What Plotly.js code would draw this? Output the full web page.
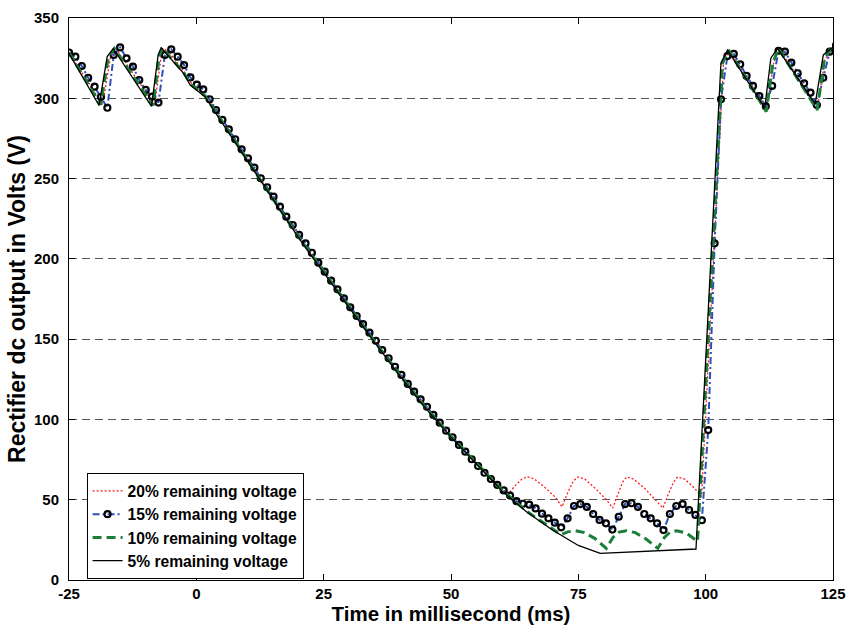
<!DOCTYPE html>
<html>
<head>
<meta charset="utf-8">
<script src="https://cdn.plot.ly/plotly-3.0.1.min.js"></script>
<style>
  html, body { margin: 0; padding: 0; background: #ffffff; }
  #chart { width: 849px; height: 626px; }
</style>
</head>
<body>
<div id="chart"></div>
<script>
// Rectifier dc-link voltage during a voltage sag, for four remaining-voltage levels.

// 20% remaining voltage
const t20 = [-25, -18.4, -16.9, -15.8, -8.2, -6.9, -5.9, -2.5, -1.0, 1.7, 5, 10, 15, 20, 25, 30, 35, 40, 45, 50, 55, 60,
  61.3, 62.6, 63.9, 65.0, 66.3, 68.5, 70.5, 71.8, 73.0, 74.0, 74.9, 76.3, 78.5, 80.5, 81.75, 82.9, 83.7, 84.5, 85.9,
  88.2, 90.2, 91.6, 92.8, 93.7, 94.5, 95.9, 97.7, 99.2, 103.5, 104.6, 112.0, 113.4, 114.5, 122.0, 123.4, 124.6, 125];
const v20 = [328.5, 296, 325, 331, 296, 326, 331, 317, 309.5, 302, 286.5, 262, 238, 214.5, 192.5, 170.5, 149, 128, 108, 90, 72.8, 56.5,
  53.8, 58.8, 62.8, 64.3, 63.0, 57.5, 51.5, 45.6, 55.0, 61.5, 64.2, 62.8, 56.5, 50.0, 44.8, 54.5, 61.0, 64.2, 62.8,
  56.5, 50.0, 44.8, 54.5, 61.0, 64.2, 62.8, 57.5, 52.0, 322, 330, 293.5, 323, 330.5, 294.5, 324, 330, 331.5];

// 15% remaining voltage (sampled trace, drawn with markers)
const t15 = [-25.00, -23.75, -22.49, -21.24, -19.98, -18.73, -17.47, -16.22, -14.96, -13.71, -12.45, -11.20, -9.94, -8.69,
  -7.43, -6.18, -4.92, -3.67, -2.41, -1.16, 0.10, 1.36, 2.61, 3.87, 5.12, 6.38, 7.63, 8.89, 10.14, 11.40, 12.65, 13.91,
  15.16, 16.42, 17.67, 18.93, 20.18, 21.44, 22.69, 23.95, 25.20, 26.46, 27.71, 28.97, 30.22, 31.48, 32.73, 33.99, 35.24,
  36.50, 37.75, 39.01, 40.26, 41.52, 42.77, 44.03, 45.28, 46.54, 47.79, 49.05, 50.30, 51.56, 52.81, 54.07, 55.32, 56.58,
  57.83, 59.09, 60.34, 61.60, 62.85, 64.11, 65.36, 66.62, 67.87, 69.13, 70.38, 71.64, 72.89, 74.15, 75.40, 76.66, 77.91,
  79.17, 80.42, 81.68, 82.93, 84.19, 85.44, 86.70, 87.95, 89.21, 90.46, 91.72, 92.97, 94.23, 95.48, 96.74, 97.99, 99.25,
  100.50, 101.76, 103.01, 104.27, 105.52, 106.78, 108.03, 109.29, 110.54, 111.80, 113.05, 114.31, 115.56, 116.82, 118.07,
  119.33, 120.58, 121.84, 123.09, 124.35, 125.60];
const v15 = [328.5, 325.9, 320.1, 312.8, 307.2, 300.8, 294.1, 327.0, 331.7, 324.9, 319.7, 311.4, 305.2, 301.0,
  297.3, 327.0, 330.5, 325.9, 320.7, 313.0, 308.5, 305.6, 299.4, 292.7, 286.5, 280.7, 274.5, 268.2, 262.6, 256.8, 250.2, 244.6,
  238.7, 232.5, 226.3, 221.1, 214.9, 209.7, 203.8, 197.6, 192.0, 186.4, 181.0, 175.4, 169.8, 164.4, 159.4, 154.0, 149.0,
  143.2, 138.1, 132.8, 127.7, 122.1, 117.3, 112.5, 107.9, 102.8, 98.0, 93.0, 88.9, 84.1, 79.9, 75.2, 71.0, 66.8,
  62.9, 59.2, 55.8, 52.6, 49.1, 47.5, 46.9, 44.6, 41.3, 38.4, 35.7, 32.8, 38.4, 46.1, 47.3, 45.6, 41.1,
  37.4, 35.3, 31.4, 39.4, 47.3, 47.8, 45.6, 41.1, 38.4, 35.3, 31.1, 41.1, 46.1, 47.3, 43.6, 40.5, 37.2,
  93.4, 209.7, 299.4, 326.3, 327.6, 321.2, 313.9, 307.7, 301.4, 295.0, 307.7, 329.6, 329.0, 322.2, 315.6,
  309.3, 303.5, 295.8, 312.8, 329.0, 333.0];

// 10% remaining voltage
const t10 = [-25, -18.8, -17.3, -16.1, -8.5, -7.3, -6.7, -2.5, -1.0, 1.7, 5, 10, 15, 20, 25, 30, 35, 40, 45, 50, 55, 60, 65, 70,
  71.6, 72.9, 74.4, 76.2, 78.3, 80.5, 81.8, 83.0, 84.4, 86.2, 88.3, 90.6, 91.9, 93.0, 94.3, 96.2, 98.4,
  103.3, 104.5, 111.9, 113.2, 114.3, 121.9, 123.3, 124.4, 125];
const v10 = [328.5, 296, 325, 331, 295.5, 326, 331.5, 316, 308.5, 301.5, 286, 261.5, 237.5, 214, 192, 170, 148.5, 127.5, 107.5, 89.5, 72.5, 56, 42.5, 31.5,
  28.2, 30, 30.7, 29.5, 25.8, 19.7, 26.5, 29.8, 30.7, 29.5, 25.5, 19.7, 26.5, 29.8, 30.7, 29.3, 24,
  322, 330, 291.7, 322, 331, 292.7, 324, 330.5, 332];

// 5% remaining voltage
const t5 = [-25, -19.1, -17.5, -16.3, -8.8, -7.5, -6.9, -2.5, -1.2, 1.7, 5, 10, 15, 20, 25, 30, 35, 40, 45, 50, 55, 60, 65, 70, 75,
  79.3, 98.1, 103.0, 104.3, 111.6, 112.8, 114.1, 121.5, 123.1, 125];
const v5 = [328, 295.5, 326, 331, 295, 327, 331.5, 315.5, 308.3, 301, 285, 261, 237, 213.5, 191.5, 169.5, 148, 127, 107, 89, 72, 55.5, 42, 31, 21.5,
  16.6, 19.3, 322, 330, 294, 325, 331, 296.5, 327, 332];

const seriesNames = ['20% remaining voltage', '15% remaining voltage', '10% remaining voltage', '5% remaining voltage'];

const xTickVals = [-25, 0, 25, 50, 75, 100, 125];
const xTickText = ['-25', '0', '25', '50', '75', '100', '125'];
const yTickVals = [0, 50, 100, 150, 200, 250, 300, 350];

const FONT = 'Liberation Sans, Arial, Helvetica, sans-serif';

const traces = [
  {
    x: t20, y: v20, name: seriesNames[0], type: 'scatter', mode: 'lines',
    line: { color: '#ff1a1a', width: 1.3, dash: '2px,2px' }
  },
  {
    x: t15, y: v15, name: seriesNames[1], type: 'scatter', mode: 'lines+markers',
    line: { color: '#2f4fbf', width: 2, dash: '7px,3px,2px,3px' },
    marker: { symbol: 'circle', size: 6, color: 'rgba(0,0,0,0)', line: { color: '#000000', width: 2.2 } }
  },
  {
    x: t10, y: v10, name: seriesNames[2], type: 'scatter', mode: 'lines',
    line: { color: '#1b7f3a', width: 3, dash: '9px,5px' }
  },
  {
    x: t5, y: v5, name: seriesNames[3], type: 'scatter', mode: 'lines',
    line: { color: '#000000', width: 1.3 }
  }
];

const layout = {
  width: 849, height: 626,
  margin: { l: 69, r: 16, t: 18, b: 46 },
  paper_bgcolor: '#ffffff', plot_bgcolor: '#ffffff',
  font: { family: FONT, color: '#000000' },
  showlegend: true,
  legend: {
    x: 0.023, y: 0.19, xanchor: 'left', yanchor: 'top',
    bgcolor: '#ffffff', bordercolor: '#000000', borderwidth: 1,
    font: { family: FONT, size: 15.6, weight: 'bold', color: '#000000' },
    tracegroupgap: 0
  },
  xaxis: {
    range: [-25, 125], tickmode: 'array', tickvals: xTickVals, ticktext: xTickText,
    showgrid: false, zeroline: false,
    showline: true, linecolor: '#000000', linewidth: 1, mirror: 'ticks',
    ticks: 'inside', ticklen: 6, tickcolor: '#000000',
    tickfont: { family: FONT, size: 15, weight: 'bold' },
    title: { text: 'Time in millisecond (ms)', font: { family: FONT, size: 20.5, weight: 'bold' }, standoff: 3 },
    automargin: false
  },
  yaxis: {
    range: [0, 350], tickmode: 'array', tickvals: yTickVals,
    showgrid: true, gridcolor: '#555555', gridwidth: 1, griddash: '8px,5px',
    zeroline: false,
    showline: true, linecolor: '#000000', linewidth: 1, mirror: 'ticks',
    ticks: 'inside', ticklen: 6, tickcolor: '#000000', ticklabelstandoff: 6,
    tickfont: { family: FONT, size: 15, weight: 'bold' },
    title: { text: 'Rectifier dc output in Volts (V)', font: { family: FONT, size: 23, weight: 'bold' }, standoff: 1 },
    automargin: false
  }
};

Plotly.newPlot('chart', traces, layout, { staticPlot: true, displayModeBar: false });
</script>
</body>
</html>
